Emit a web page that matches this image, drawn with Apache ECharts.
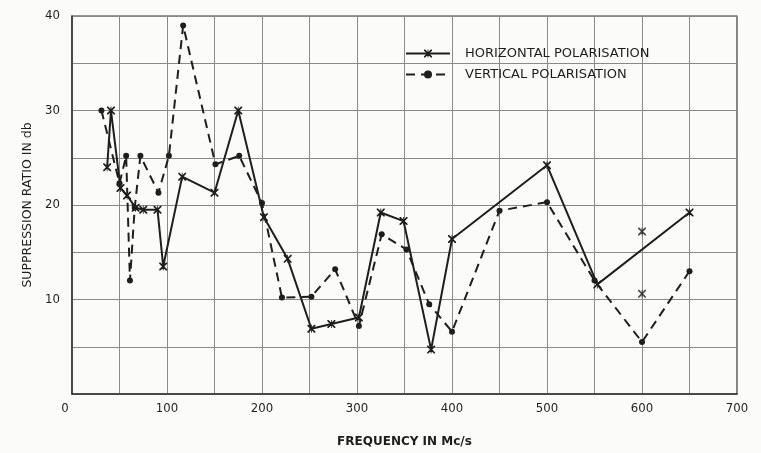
<!DOCTYPE html>
<html>
<head>
<meta charset="utf-8">
<script src="https://cdn.jsdelivr.net/npm/echarts@6/dist/echarts.min.js"></script>
<style>
  html, body { margin: 0; padding: 0; background: #fbfbf9; }
  #chart { width: 761px; height: 453px; }
</style>
</head>
<body>
<div id="chart"></div>
<script>
// horizontal polarisation (solid line, star marks)
var freqH = [37, 41, 51, 58, 67, 75, 90, 96, 116, 150, 175, 202, 227, 252, 273, 302, 325, 349, 378, 400, 500, 553, 650];
var suppH = [24, 30, 21.8, 21, 19.7, 19.5, 19.5, 13.5, 23, 21.3, 30, 18.7, 14.3, 6.9, 7.4, 8.1, 19.2, 18.3, 4.7, 16.4, 24.2, 11.6, 19.2];
// lone horizontal points at 600 Mc/s
var freqHx = [600, 600];
var suppHx = [17.2, 10.6];
// vertical polarisation (dashed line, dots)
var freqV = [31, 50, 57, 61, 66, 72, 91, 102, 117, 151, 176, 200, 221, 252, 277, 302, 326, 352, 376, 400, 450, 500, 550, 600, 650];
var suppV = [30, 22.3, 25.2, 12, 19.7, 25.2, 21.3, 25.2, 39, 24.3, 25.2, 20.2, 10.2, 10.3, 13.2, 7.2, 16.9, 15.3, 9.5, 6.6, 19.4, 20.3, 12, 5.5, 13];

var xTicks = [0, 100, 200, 300, 400, 500, 600, 700];
var yTicks = [10, 20, 30, 40];

function pairs(xs, ys) {
  return xs.map(function (x, i) { return [x, ys[i]]; });
}

var starPath = 'path://M0,0 L3,0 L10,7 L17,0 L20,0 L20,3 L13,10 L20,17 L20,20 L17,20 L10,13 L3,20 L0,20 L0,17 L7,10 L0,3 Z M9,0 L11,0 L11,20 L9,20 Z';
var ink = '#1e1e1e';
var font = 'DejaVu Sans Condensed';

var chart = echarts.init(document.getElementById('chart'));
chart.setOption({
  backgroundColor: '#fbfbf9',
  animation: false,
  grid: {
    left: 72, top: 16, width: 665, height: 379,
    show: true, borderColor: '#333', borderWidth: 1.2, backgroundColor: 'transparent'
  },
  legend: {
    left: 400, top: 42, orient: 'vertical',
    itemWidth: 44, itemHeight: 10, itemGap: 8,
    data: ['HORIZONTAL POLARISATION', 'VERTICAL POLARISATION'],
    textStyle: { color: ink, fontFamily: 'DejaVu Sans', fontSize: 13, padding: [0, 0, 0, 10] }
  },
  xAxis: {
    type: 'value', min: 0, max: 700, interval: 50,
    name: 'FREQUENCY IN Mc/s', nameLocation: 'middle', nameGap: 42,
    nameTextStyle: { color: ink, fontFamily: 'DejaVu Sans', fontSize: 12, fontWeight: 'bold' },
    axisLine: { show: true, lineStyle: { color: '#333', width: 1.5 } },
    axisTick: { show: false },
    splitLine: { show: true, lineStyle: { color: '#8a8a8a', width: 1 } },
    axisLabel: {
      margin: 8, color: ink, fontFamily: font, fontSize: 13,
      formatter: function (v) {
        if (v === 0) return '{z|0}';
        return xTicks.indexOf(v) >= 0 ? String(v) : '';
      },
      rich: { z: { padding: [0, 14, 0, 0], fontFamily: font, fontSize: 13, color: ink } }
    }
  },
  yAxis: {
    type: 'value', min: 0, max: 40, interval: 5,
    name: 'SUPPRESSION RATIO IN db', nameLocation: 'middle', nameGap: 36, nameRotate: 90,
    nameTextStyle: { color: ink, fontFamily: 'DejaVu Sans', fontSize: 12.5 },
    axisLine: { show: true, lineStyle: { color: '#333', width: 1.5 } },
    axisTick: { show: false },
    splitLine: { show: true, lineStyle: { color: '#8a8a8a', width: 1 } },
    axisLabel: {
      margin: 12, color: ink, fontFamily: font, fontSize: 13,
      formatter: function (v) { return yTicks.indexOf(v) >= 0 ? String(v) : ''; }
    }
  },
  series: [
    {
      name: 'HORIZONTAL POLARISATION', type: 'line',
      data: pairs(freqH, suppH),
      symbol: starPath, symbolSize: 8,
      itemStyle: { color: ink },
      lineStyle: { color: ink, width: 2 }
    },
    {
      name: 'VERTICAL POLARISATION', type: 'line',
      data: pairs(freqV, suppV),
      symbol: 'circle', symbolSize: 6,
      itemStyle: { color: ink },
      lineStyle: { color: ink, width: 2, type: [9, 6] }
    },
    {
      name: 'HORIZONTAL POLARISATION', type: 'scatter',
      data: pairs(freqHx, suppHx),
      symbol: starPath, symbolSize: 8,
      itemStyle: { color: ink }
    }
  ]
});
</script>
</body>
</html>
